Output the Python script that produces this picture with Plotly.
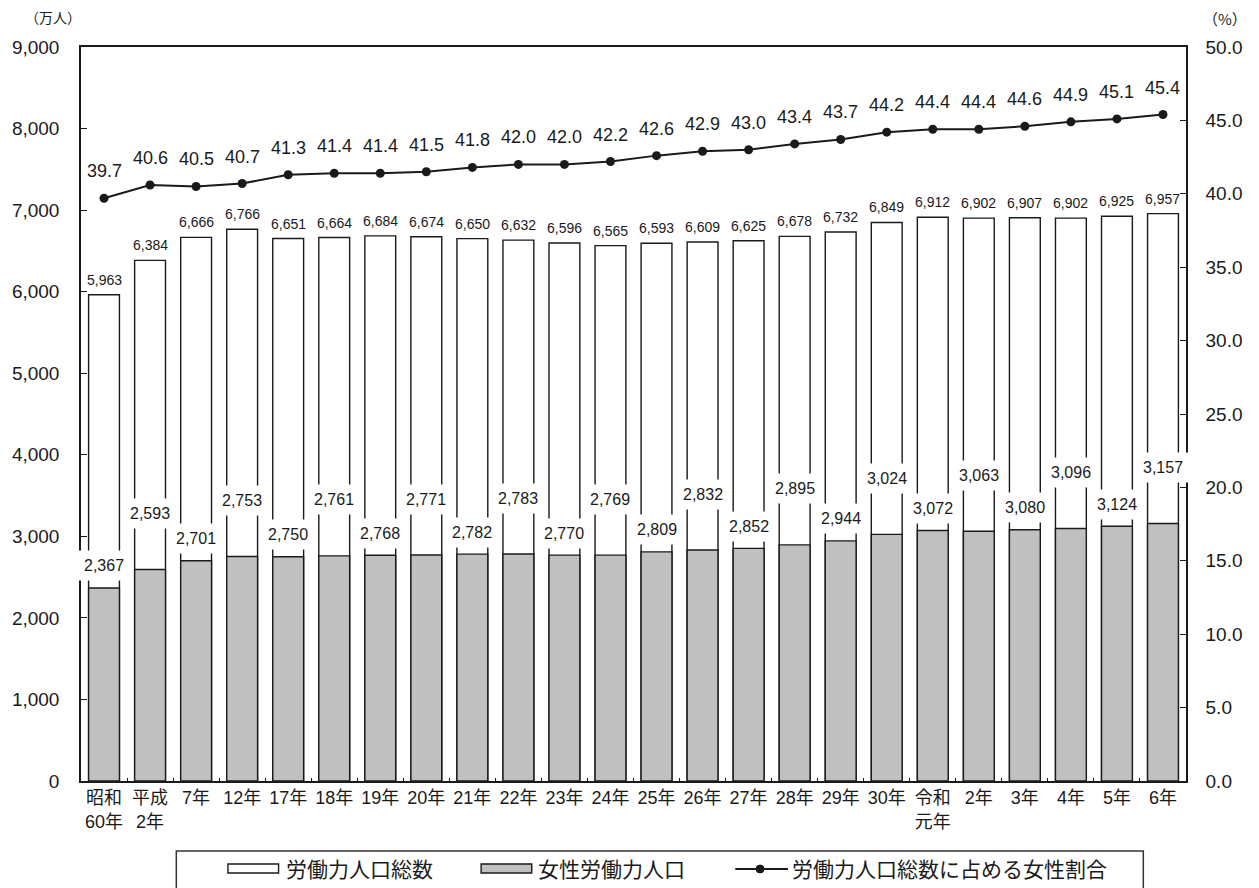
import plotly.graph_objects as go

# 年次（横軸カテゴリ）
categories = [
    "昭和<br>60年", "平成<br>2年", "7年", "12年", "17年", "18年", "19年", "20年",
    "21年", "22年", "23年", "24年", "25年", "26年", "27年", "28年", "29年", "30年",
    "令和<br>元年", "2年", "3年", "4年", "5年", "6年",
]
# 労働力人口総数（万人）
total_labor = [
    5963, 6384, 6666, 6766, 6651, 6664, 6684, 6674, 6650, 6632, 6596, 6565,
    6593, 6609, 6625, 6678, 6732, 6849, 6912, 6902, 6907, 6902, 6925, 6957,
]
# 女性労働力人口（万人）
female_labor = [
    2367, 2593, 2701, 2753, 2750, 2761, 2768, 2771, 2782, 2783, 2770, 2769,
    2809, 2832, 2852, 2895, 2944, 3024, 3072, 3063, 3080, 3096, 3124, 3157,
]
# 労働力人口総数に占める女性割合（%）
female_share = [
    39.7, 40.6, 40.5, 40.7, 41.3, 41.4, 41.4, 41.5, 41.8, 42.0, 42.0, 42.2,
    42.6, 42.9, 43.0, 43.4, 43.7, 44.2, 44.4, 44.4, 44.6, 44.9, 45.1, 45.4,
]
left_ticks = [0, 1000, 2000, 3000, 4000, 5000, 6000, 7000, 8000, 9000]
right_ticks = [0, 5, 10, 15, 20, 25, 30, 35, 40, 45, 50]

NUM_FONT = "Liberation Sans, Arial, sans-serif"
JP_FONT = "Liberation Sans, Noto Sans CJK JP, sans-serif"
CJK_FONT = "Noto Sans CJK JP, sans-serif"
INK = "#1a1a1a"

W, H = 1259, 888
ML, MR, MT, MB = 73, 73, 47, 107
PW, PH = W - ML - MR, H - MT - MB


def px(x):
    return (x - ML) / PW


def py(y):
    return (H - MB - y) / PH


fig = go.Figure()

fig.add_trace(go.Bar(
    x=categories, y=total_labor, name="労働力人口総数",
    marker=dict(color="white", line=dict(color=INK, width=1.4)),
    showlegend=False,
))
fig.add_trace(go.Bar(
    x=categories, y=female_labor, name="女性労働力人口",
    marker=dict(color="#c0c0c0", line=dict(color=INK, width=1.4)),
    showlegend=False,
))
fig.add_trace(go.Scatter(
    x=categories, y=female_share, yaxis="y2", name="労働力人口総数に占める女性割合",
    mode="lines+markers",
    line=dict(color=INK, width=2),
    marker=dict(color=INK, size=9),
    showlegend=False,
))

annotations = []
# 総数ラベル
for c, v in zip(categories, total_labor):
    annotations.append(dict(
        x=c, y=v, xref="x", yref="y", text=f"{v:,}", showarrow=False,
        xanchor="center", yanchor="middle", yshift=15,
        font=dict(family=NUM_FONT, size=14, color=INK),
    ))
# 女性労働力人口ラベル（交互に上下へずらす）
for i, (c, v) in enumerate(zip(categories, female_labor)):
    annotations.append(dict(
        x=c, y=v, xref="x", yref="y", text=f"{v:,}", showarrow=False,
        xanchor="center", yanchor="middle", yshift=56 if i % 2 else 22,
        bgcolor="white", borderpad=6,
        font=dict(family=NUM_FONT, size=16, color=INK),
    ))
# 女性割合ラベル
for c, v in zip(categories, female_share):
    annotations.append(dict(
        x=c, y=v, xref="x", yref="y2", text=f"{v:.1f}", showarrow=False,
        xanchor="center", yanchor="middle", yshift=27,
        font=dict(family=NUM_FONT, size=18, color=INK),
    ))
# 軸単位
annotations.append(dict(
    x=px(45), y=py(17), xref="paper", yref="paper", text="（万人）", showarrow=False,
    xanchor="center", yanchor="middle",
    font=dict(family=CJK_FONT, size=14, color=INK),
))
annotations.append(dict(
    x=px(1225), y=py(18), xref="paper", yref="paper", text="（%）", showarrow=False,
    xanchor="center", yanchor="middle",
    font=dict(family=CJK_FONT, size=15, color=INK),
))

# 凡例
shapes = [
    dict(type="rect", xref="paper", yref="paper",
         x0=px(169), x1=px(1143), y0=py(851), y1=py(900),
         line=dict(color="#333", width=1.5), fillcolor="white"),
    dict(type="rect", xref="paper", yref="paper",
         x0=px(221), x1=px(272), y0=py(864), y1=py(873),
         line=dict(color=INK, width=1.4), fillcolor="white"),
    dict(type="rect", xref="paper", yref="paper",
         x0=px(476), x1=px(527), y0=py(864), y1=py(873),
         line=dict(color=INK, width=1.4), fillcolor="#c0c0c0"),
    dict(type="line", xref="paper", yref="paper",
         x0=px(732), x1=px(785), y0=py(869), y1=py(869),
         line=dict(color=INK, width=2)),
    dict(type="circle", xref="paper", yref="paper",
         x0=px(753), x1=px(761), y0=py(873), y1=py(865),
         line=dict(color=INK, width=1), fillcolor=INK),
]
legend_texts = [
    (277, "労働力人口総数"),
    (531, "女性労働力人口"),
    (787, "労働力人口総数に占める女性割合"),
]
for x0, t in legend_texts:
    annotations.append(dict(
        x=px(x0), y=py(869), xref="paper", yref="paper", text=t, showarrow=False,
        xanchor="left", yanchor="middle",
        font=dict(family=JP_FONT, size=21, color=INK),
    ))

fig.update_layout(
    width=W, height=H,
    margin=dict(l=ML, r=MR, t=MT, b=MB),
    paper_bgcolor="white", plot_bgcolor="white",
    barmode="overlay", bargap=0.33,
    showlegend=False,
    xaxis=dict(
        type="category", categoryorder="array", categoryarray=categories,
        range=[-0.5, len(categories) - 0.5], tickangle=0,
        showline=True, linecolor=INK, linewidth=1.5, mirror=True,
        ticks="inside", tickson="boundaries", ticklen=3, tickcolor=INK,
        showgrid=False, tickfont=dict(family=JP_FONT, size=18, color=INK),
    ),
    yaxis=dict(
        range=[0, 9000], tickvals=left_ticks, tickformat=",",
        showline=True, linecolor=INK, linewidth=1.5,
        ticks="inside", ticklen=6, tickcolor=INK, showgrid=False, zeroline=False,
        ticklabelstandoff=16,
        tickfont=dict(family=NUM_FONT, size=19, color=INK),
    ),
    yaxis2=dict(
        range=[0, 50], tickvals=right_ticks, tickformat=".1f",
        overlaying="y", side="right",
        showline=True, linecolor=INK, linewidth=1.5,
        ticks="inside", ticklen=6, tickcolor=INK, showgrid=False, zeroline=False,
        ticklabelstandoff=14,
        tickfont=dict(family=NUM_FONT, size=19, color=INK),
    ),
    annotations=annotations,
    shapes=shapes,
)

fig.write_html("out.html")
